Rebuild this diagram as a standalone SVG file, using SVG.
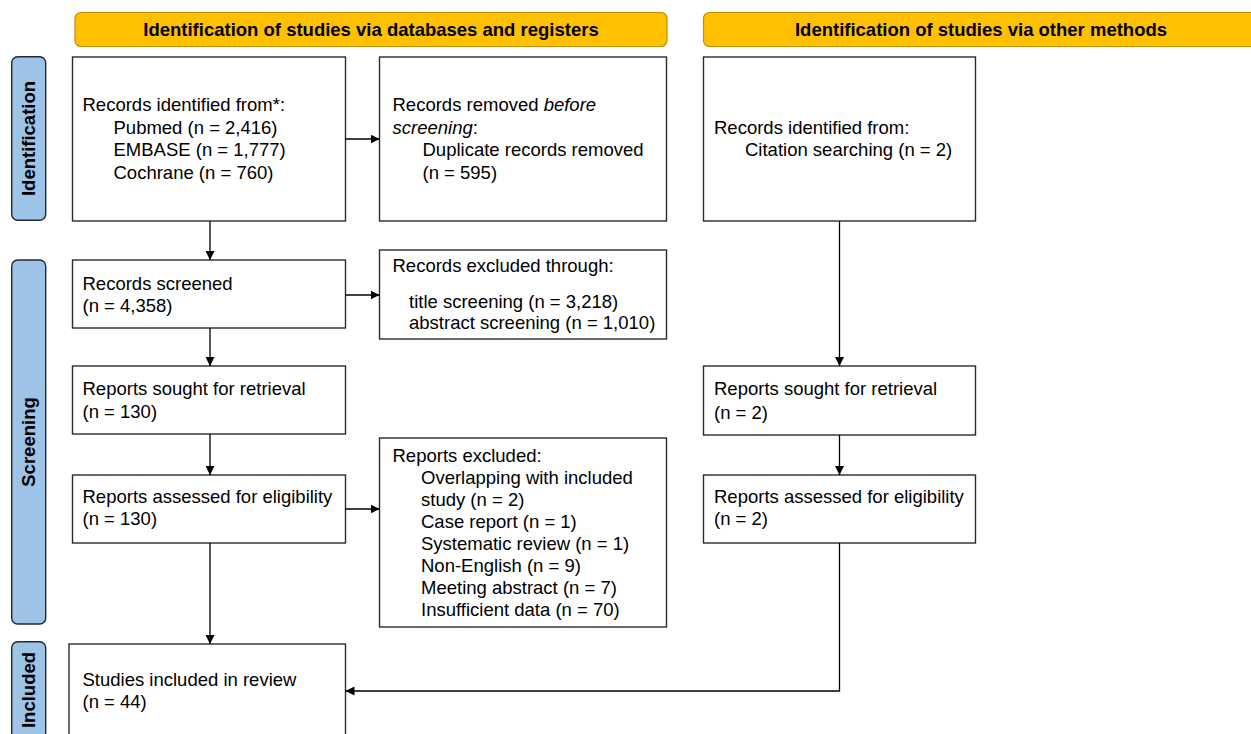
<svg xmlns="http://www.w3.org/2000/svg" width="1251" height="734" viewBox="0 0 1251 734">
<defs>
<style>
.box{fill:#fff;stroke:#2b2b2b;stroke-width:1.4}
.banner{fill:#FFC000;stroke:#BF9000;stroke-width:1.2}
.side{fill:#9DC3E6;stroke:#1F2A36;stroke-width:1.4}
.t{font-family:"Liberation Sans",Arial,sans-serif;font-size:18.5px;fill:#000}
.b{font-family:"Liberation Sans",Arial,sans-serif;font-size:18.5px;font-weight:bold;fill:#000}
.c{fill:none;stroke:#000;stroke-width:1.3}
</style>
<marker id="ah" viewBox="0 0 10 10" refX="10" refY="5" markerWidth="9" markerHeight="9" markerUnits="userSpaceOnUse" orient="auto">
<path d="M0,0 L10,5 L0,10 z" fill="#000"/>
</marker>
</defs>
<rect width="1251" height="734" fill="#fff"/>

<g id="banner-databases">
<rect class="banner" x="75" y="12.5" width="592" height="34" rx="6"/>
<text class="b" x="371" y="36" text-anchor="middle">Identification of studies via databases and registers</text>
</g>
<g id="banner-other">
<rect class="banner" x="703.5" y="12.5" width="560" height="34" rx="6"/>
<text class="b" x="981" y="36" text-anchor="middle">Identification of studies via other methods</text>
</g>

<g id="side-identification">
<rect class="side" x="11.7" y="56.7" width="34" height="163.5" rx="6"/>
<text class="b" transform="translate(35.2,138.5) rotate(-90)" text-anchor="middle">Identification</text>
</g>
<g id="side-screening">
<rect class="side" x="11.7" y="260" width="34" height="364" rx="6"/>
<text class="b" transform="translate(35.2,442) rotate(-90)" text-anchor="middle">Screening</text>
</g>
<g id="side-included">
<rect class="side" x="11.7" y="641.7" width="34" height="97" rx="6"/>
<text class="b" transform="translate(35.2,690) rotate(-90)" text-anchor="middle">Included</text>
</g>

<g id="records-identified">
<rect class="box" x="72.5" y="57" width="273" height="164"/>
<text class="t" x="82.5" y="111">Records identified from*:</text>
<text class="t" x="113.5" y="133.5">Pubmed (n = 2,416)</text>
<text class="t" x="113.5" y="156">EMBASE (n = 1,777)</text>
<text class="t" x="113.5" y="178.5">Cochrane (n = 760)</text>
</g>
<g id="records-removed">
<rect class="box" x="379.5" y="57" width="287" height="164"/>
<text class="t" x="392.5" y="111">Records removed <tspan font-style="italic">before</tspan></text>
<text class="t" x="392.5" y="133.5"><tspan font-style="italic">screening</tspan>:</text>
<text class="t" x="422.5" y="156">Duplicate records removed</text>
<text class="t" x="422.5" y="178.5">(n = 595)</text>
</g>
<g id="records-other">
<rect class="box" x="703.5" y="57" width="272" height="164"/>
<text class="t" x="714" y="134">Records identified from:</text>
<text class="t" x="745" y="156">Citation searching (n = 2)</text>
</g>
<g id="records-screened">
<rect class="box" x="72.5" y="260" width="273" height="68"/>
<text class="t" x="82.5" y="290">Records screened</text>
<text class="t" x="82.5" y="312">(n = 4,358)</text>
</g>
<g id="records-excluded">
<rect class="box" x="379.5" y="250" width="287" height="89"/>
<text class="t" x="392.5" y="271.5">Records excluded through:</text>
<text class="t" x="409" y="307.5">title screening (n = 3,218)</text>
<text class="t" x="409" y="329">abstract screening (n = 1,010)</text>
</g>
<g id="reports-sought">
<rect class="box" x="72.5" y="366" width="273" height="68"/>
<text class="t" x="82.5" y="395">Reports sought for retrieval</text>
<text class="t" x="82.5" y="418">(n = 130)</text>
</g>
<g id="reports-sought-other">
<rect class="box" x="703.5" y="366" width="272" height="69"/>
<text class="t" x="714" y="395">Reports sought for retrieval</text>
<text class="t" x="714" y="418.5">(n = 2)</text>
</g>
<g id="reports-assessed">
<rect class="box" x="72.5" y="475" width="273" height="68"/>
<text class="t" x="82.5" y="503">Reports assessed for eligibility</text>
<text class="t" x="82.5" y="525">(n = 130)</text>
</g>
<g id="reports-excluded">
<rect class="box" x="379.5" y="438" width="287" height="189"/>
<text class="t" x="392.5" y="461.5">Reports excluded:</text>
<text class="t" x="421" y="483.5">Overlapping with included</text>
<text class="t" x="421" y="505.5">study (n = 2)</text>
<text class="t" x="421" y="527.5">Case report (n = 1)</text>
<text class="t" x="421" y="549.5">Systematic review (n = 1)</text>
<text class="t" x="421" y="571.5">Non-English (n = 9)</text>
<text class="t" x="421" y="593.5">Meeting abstract (n = 7)</text>
<text class="t" x="421" y="615.5">Insufficient data (n = 70)</text>
</g>
<g id="reports-assessed-other">
<rect class="box" x="703.5" y="475" width="272" height="68"/>
<text class="t" x="714" y="503">Reports assessed for eligibility</text>
<text class="t" x="714" y="525">(n = 2)</text>
</g>
<g id="studies-included">
<rect class="box" x="69" y="644" width="276.5" height="110"/>
<text class="t" x="82.5" y="686">Studies included in review</text>
<text class="t" x="82.5" y="708">(n = 44)</text>
</g>

<g id="connectors">
<line class="c" x1="345.5" y1="139" x2="379.5" y2="139" marker-end="url(#ah)"/>
<line class="c" x1="210" y1="221" x2="210" y2="260" marker-end="url(#ah)"/>
<line class="c" x1="345.5" y1="295" x2="379.5" y2="295" marker-end="url(#ah)"/>
<line class="c" x1="210" y1="328" x2="210" y2="366" marker-end="url(#ah)"/>
<line class="c" x1="210" y1="434" x2="210" y2="475" marker-end="url(#ah)"/>
<line class="c" x1="345.5" y1="509" x2="379.5" y2="509" marker-end="url(#ah)"/>
<line class="c" x1="210" y1="543" x2="210" y2="644" marker-end="url(#ah)"/>
<line class="c" x1="839.5" y1="221" x2="839.5" y2="366" marker-end="url(#ah)"/>
<line class="c" x1="839.5" y1="435" x2="839.5" y2="475" marker-end="url(#ah)"/>
<polyline class="c" points="839.5,543 839.5,691 345.5,691" marker-end="url(#ah)"/>
</g>
</svg>
